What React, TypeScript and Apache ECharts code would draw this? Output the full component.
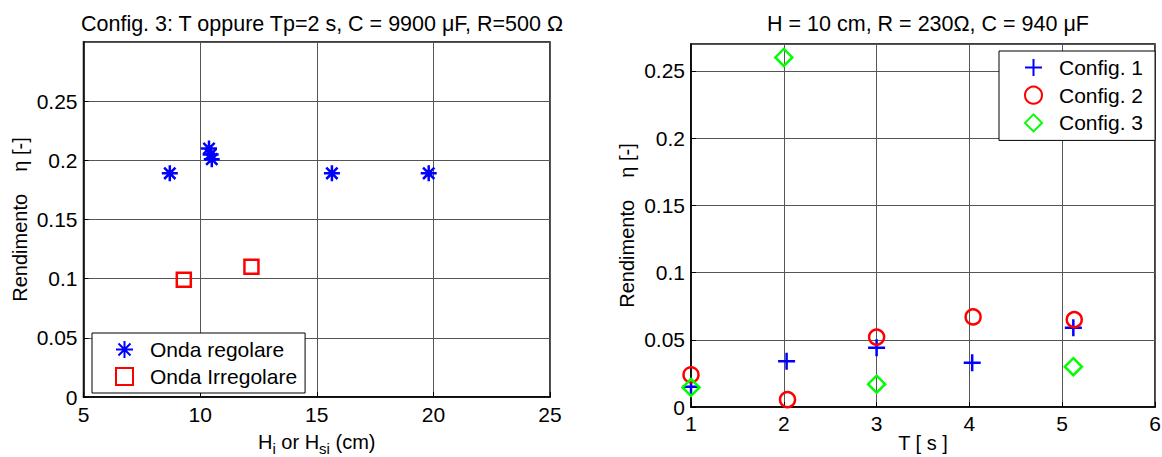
import React, { useEffect, useRef } from "react";
import * as echarts from "echarts";

// ---- Data ----
const leftTitle = "Config. 3: T oppure Tp=2 s, C = 9900 μF, R=500 Ω";
const rightTitle = "H = 10 cm, R = 230Ω, C = 940 μF";

const regolareH = [8.7, 10.38, 10.45, 10.5, 15.65, 19.8];
const regolareEta = [0.189, 0.21, 0.205, 0.201, 0.189, 0.189];
const irregolareH = [9.3, 12.2];
const irregolareEta = [0.099, 0.11];

const cfg1T = [1.0, 2.03, 3.0, 4.03, 5.12];
const cfg1Eta = [0.015, 0.034, 0.044, 0.033, 0.059];
const cfg2T = [1.0, 2.04, 3.0, 4.04, 5.13];
const cfg2Eta = [0.024, 0.0055, 0.052, 0.067, 0.065];
const cfg3T = [1.0, 2.0, 3.0, 5.12];
const cfg3Eta = [0.0145, 0.26, 0.017, 0.03];

const leftLegend = ["Onda regolare", "Onda Irregolare"];
const rightLegend = ["Config. 1", "Config. 2", "Config. 3"];

const FONT = "'Liberation Sans', Arial, Helvetica, sans-serif";
const FS = 21;
const FT = 21.5;
const FN = 20;

const STAR = "path://M0,-10L0,10M-10,0L10,0M-7.07,-7.07L7.07,7.07M-7.07,7.07L7.07,-7.07";
const PLUS = "path://M0,-10L0,10M-10,0L10,0";

const zip = (xs: number[], ys: number[]) => xs.map((x, i) => [x, ys[i]]);

export default function App() {
  const ref = useRef<HTMLDivElement>(null);
  useEffect(() => {
    if (!ref.current) return;
    const chart = echarts.init(ref.current, null, { renderer: "svg" });
    const axisCommon = {
      axisLine: { show: true, onZero: false, lineStyle: { color: "#000", width: 1.5 } },
      axisTick: { show: true, inside: true, length: 5, lineStyle: { color: "#000" } },
      axisLabel: { color: "#000", fontSize: FS, fontFamily: FONT },
      splitLine: { show: true, lineStyle: { color: "#555", width: 1 } },
      nameTextStyle: { color: "#000", fontSize: FN, fontFamily: FONT },
      nameMoveOverlap: false,
    };
    const gridCommon = {
      show: true,
      borderColor: "#000",
      borderWidth: 1.5,
      backgroundColor: "#fff",
      containLabel: false,
      outerBoundsMode: "none",
    };
    const legendCommon = {
      orient: "vertical",
      itemWidth: 17,
      itemHeight: 17,
      backgroundColor: "#fff",
      borderColor: "#000",
      borderWidth: 1,
      borderRadius: 0,
      symbolKeepAspect: true,
    };
    chart.setOption({
      animation: false,
      backgroundColor: "#fff",
      textStyle: { fontFamily: FONT },
      title: [
        {
          text: leftTitle,
          left: 317,
          top: 8,
          textAlign: "center",
          textStyle: { fontSize: FT, fontWeight: "normal", color: "#000", fontFamily: FONT },
        },
        {
          text: rightTitle,
          left: 923,
          top: 8,
          textAlign: "center",
          textStyle: { fontSize: FT, fontWeight: "normal", color: "#000", fontFamily: FONT },
        },
      ],
      grid: [
        { ...gridCommon, left: 83.5, right: 612, top: 42, bottom: 60 },
        { ...gridCommon, left: 691, right: 7, top: 44, bottom: 50 },
      ],
      xAxis: [
        {
          ...axisCommon,
          gridIndex: 0,
          type: "value",
          min: 5,
          max: 25,
          interval: 5,
          axisLabel: { ...axisCommon.axisLabel, margin: 7 },
          name: "{n|H}{s|i}{n| or H}{s|si}{n| (cm)}",
          nameLocation: "middle",
          nameGap: 35,
          nameTextStyle: {
            ...axisCommon.nameTextStyle,
            rich: {
              n: { fontSize: FN, fontFamily: FONT, color: "#000", lineHeight: 22, verticalAlign: "top" },
              s: { fontSize: 15, fontFamily: FONT, color: "#000", lineHeight: 15, padding: [9, 0, 0, 0], verticalAlign: "top" },
            },
          },
        },
        {
          ...axisCommon,
          gridIndex: 1,
          type: "value",
          min: 1,
          max: 6,
          interval: 1,
          axisLabel: { ...axisCommon.axisLabel, margin: 6 },
          name: "T [ s ]",
          nameLocation: "middle",
          nameGap: 26,
        },
      ],
      yAxis: [
        {
          ...axisCommon,
          gridIndex: 0,
          type: "value",
          min: 0,
          max: 0.3,
          interval: 0.05,
          axisLabel: { ...axisCommon.axisLabel, margin: 6, showMaxLabel: false },
          name: "Rendimento    η [-]",
          nameLocation: "middle",
          nameRotate: 90,
          nameGap: 54,
        },
        {
          ...axisCommon,
          gridIndex: 1,
          type: "value",
          min: 0,
          max: 0.27,
          interval: 0.05,
          axisLabel: { ...axisCommon.axisLabel, margin: 6, showMaxLabel: false },
          name: "Rendimento    η [-]",
          nameLocation: "middle",
          nameRotate: 90,
          nameGap: 54,
        },
      ],
      legend: [
        {
          ...legendCommon,
          data: leftLegend,
          left: 92,
          top: 333,
          itemGap: 6,
          padding: [6, 8, 6, 23],
          textStyle: { fontSize: FS, lineHeight: 20, color: "#000", fontFamily: FONT, padding: [0, 0, 0, 12] },
        },
        {
          ...legendCommon,
          data: rightLegend,
          left: 999,
          top: 51,
          itemGap: 6.7,
          padding: [6, 12, 7, 25],
          textStyle: { fontSize: FS, lineHeight: 20, color: "#000", fontFamily: FONT, padding: [0, 0, 0, 12] },
        },
      ],
      series: [
        {
          name: leftLegend[0],
          type: "scatter",
          xAxisIndex: 0,
          yAxisIndex: 0,
          data: zip(regolareH, regolareEta),
          symbol: STAR,
          symbolSize: 16,
          symbolKeepAspect: true,
          clip: false,
          itemStyle: { color: "#0000ff", borderColor: "#0000ff", borderWidth: 2.5, opacity: 1 },
        },
        {
          name: leftLegend[1],
          type: "scatter",
          xAxisIndex: 0,
          yAxisIndex: 0,
          data: zip(irregolareH, irregolareEta),
          symbol: "rect",
          symbolSize: 14,
          symbolKeepAspect: true,
          clip: false,
          itemStyle: { color: "rgba(0,0,0,0)", borderColor: "#ff0000", borderWidth: 2.5, opacity: 1 },
        },
        {
          name: rightLegend[0],
          type: "scatter",
          xAxisIndex: 1,
          yAxisIndex: 1,
          data: zip(cfg1T, cfg1Eta),
          symbol: PLUS,
          symbolSize: 17,
          symbolKeepAspect: true,
          clip: false,
          itemStyle: { color: "#0000ff", borderColor: "#0000ff", borderWidth: 2.5, opacity: 1 },
        },
        {
          name: rightLegend[1],
          type: "scatter",
          xAxisIndex: 1,
          yAxisIndex: 1,
          data: zip(cfg2T, cfg2Eta),
          symbol: "circle",
          symbolSize: 15,
          symbolKeepAspect: true,
          clip: false,
          itemStyle: { color: "rgba(0,0,0,0)", borderColor: "#ff0000", borderWidth: 2.5, opacity: 1 },
        },
        {
          name: rightLegend[2],
          type: "scatter",
          xAxisIndex: 1,
          yAxisIndex: 1,
          data: zip(cfg3T, cfg3Eta),
          symbol: "diamond",
          symbolSize: 17,
          symbolKeepAspect: true,
          clip: false,
          itemStyle: { color: "rgba(0,0,0,0)", borderColor: "#00ff00", borderWidth: 2.5, opacity: 1 },
        },
      ],
    });
    return () => chart.dispose();
  }, []);
  return (
    <div
      ref={ref}
      style={{ position: "absolute", left: 0, top: 0, width: 1162, height: 457, background: "#fff" }}
    />
  );
}
